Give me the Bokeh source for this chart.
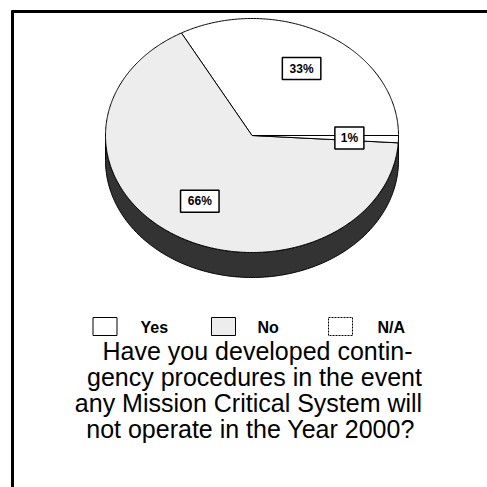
import numpy as np
from bokeh.plotting import figure
from bokeh.models import Range1d
from bokeh.core.properties import value
from bokeh.embed import file_html
from bokeh.resources import INLINE

# ---- data ----
categories = ["Yes", "No", "N/A"]
percents = [33, 66, 1]
pct_labels = ["33%", "66%", "1%"]
title_lines = [
    "Have you developed contin-",
    "gency procedures in the event",
    "any Mission Critical System will",
    "not operate in the Year 2000?",
]

# ---- style ----
slice_fill = ["#ffffff", "#ededed", "#ffffff"]
side_fill = "#333333"
FONT = "Liberation Sans"

p = figure(width=487, height=487, min_border=0, toolbar_location=None,
           output_backend="svg",
           x_range=Range1d(0, 487), y_range=Range1d(487, 0))
p.axis.visible = False
p.grid.visible = False
p.outline_line_color = None
p.background_fill_color = "white"
p.border_fill_color = "white"

# frame (top and left rules)
p.segment(x0=[11, 12], y0=[11, 10], x1=[487, 12], y1=[11, 487],
          line_color="black", line_width=3)

# ---- 3D pie geometry ----
cx, cy, a, b, depth = 251.5, 135.0, 146.5, 117.0, 25.0

def ell(theta, dy=0.0):
    return cx + a * np.cos(theta), cy - b * np.sin(theta) + dy

# side band (front half)
th = np.linspace(np.pi, 2 * np.pi, 200)
x1, y1 = ell(th)
x2, y2 = ell(th[::-1], depth)
p.patch(np.concatenate([x1, x2]), np.concatenate([y1, y2]),
        fill_color=side_fill, line_color="black", line_width=1)

# top slices
fr = np.array(percents, dtype=float) / sum(percents)
starts = np.concatenate([[0.0], np.cumsum(fr)[:-1]]) * 2 * np.pi
ends = np.cumsum(fr) * 2 * np.pi
xs, ys = [], []
for s, e in zip(starts, ends):
    t = np.linspace(s, e, max(int((e - s) / 0.01), 4))
    ex, ey = ell(t)
    xs.append(np.concatenate([[cx], ex, [cx]]))
    ys.append(np.concatenate([[cy], ey, [cy]]))
p.patches(xs, ys, fill_color=slice_fill, line_color="black", line_width=1)

# percentage labels in boxes
mid = (starts + ends) / 2
lx, ly = ell(mid)
lx = cx + (lx - cx) * 0.665
ly = cy + (ly - cy) * 0.665
bw = [10 + 9.5 * len(t) for t in pct_labels]
p.rect(x=lx, y=ly, width=bw, height=22, fill_color="white",
       line_color="black", line_width=1.5)
p.text(x=lx, y=ly, text=pct_labels, text_align="center", text_baseline="middle",
       text_font=value(FONT), text_font_style="bold", text_font_size="12px",
       text_color="black")

# ---- legend ----
box_x = [104.5, 223, 340]
txt_x = [140, 257, 377]
leg_y = 326
p.rect(x=box_x[:2], y=[leg_y] * 2, width=24, height=18,
       fill_color=slice_fill[:2], line_color="black", line_width=1)
p.rect(x=box_x[2:], y=[leg_y], width=24, height=18,
       fill_color=slice_fill[2:], line_color="black", line_width=1,
       line_dash="2 1")
p.text(x=txt_x, y=[leg_y + 1] * 3, text=categories, text_align="left",
       text_baseline="middle", text_font=value(FONT), text_font_style="bold",
       text_font_size="16px", text_color="black")

# ---- question text ----
p.text(x=[257, 254, 248, 250], y=[350, 376, 402, 428], text=title_lines,
       text_align="center", text_baseline="middle", text_font=value(FONT),
       text_font_size="25px", text_color="black")

open("out.html", "w").write(file_html(p, INLINE))
